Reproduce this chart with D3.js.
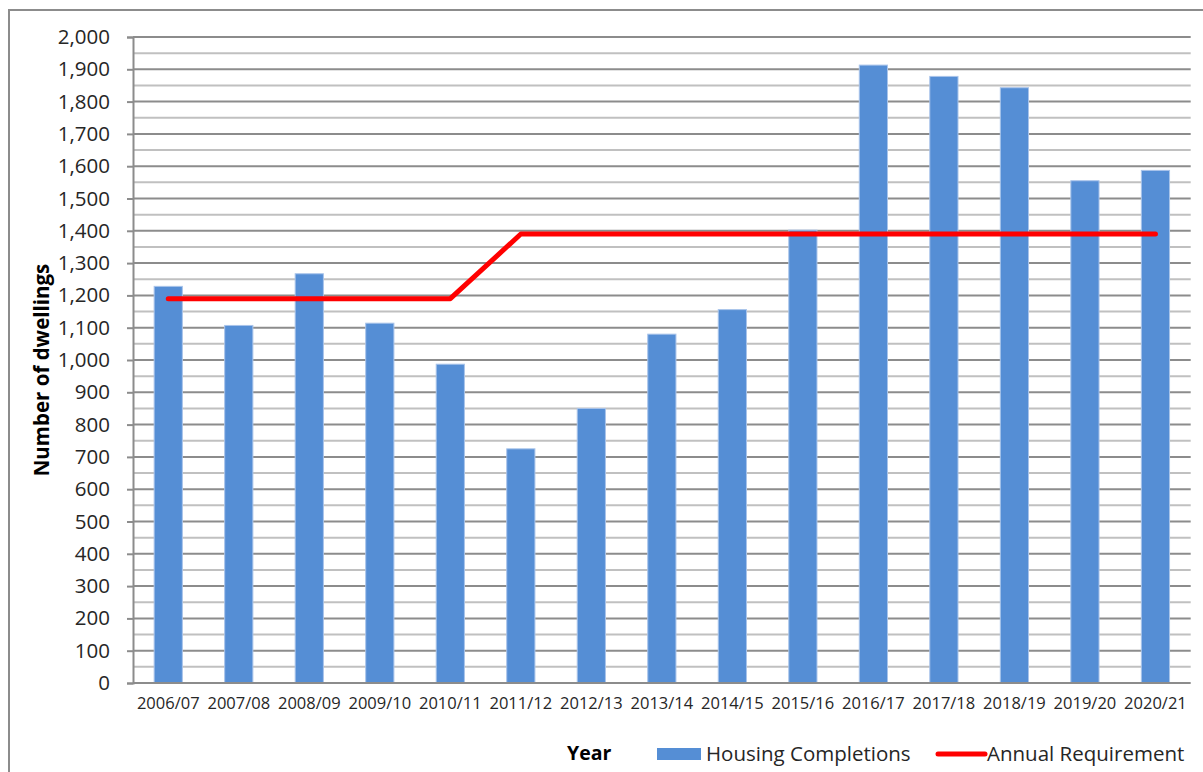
<!DOCTYPE html>
<html>
<head>
<meta charset="utf-8">
<script src="https://cdn.jsdelivr.net/npm/d3@7"></script>
<style>
  html, body { margin: 0; padding: 0; background: #fff; }
  svg { display: block; }
</style>
</head>
<body>
<svg id="chart" width="1203" height="772"></svg>
<script>
const categories = ["2006/07","2007/08","2008/09","2009/10","2010/11","2011/12","2012/13","2013/14","2014/15","2015/16","2016/17","2017/18","2018/19","2019/20","2020/21"];
const completions = [1228, 1107, 1267, 1114, 987, 725, 850, 1080, 1156, 1402, 1913, 1878, 1843, 1555, 1587];
const requirement = [1190, 1190, 1190, 1190, 1190, 1390, 1390, 1390, 1390, 1390, 1390, 1390, 1390, 1390, 1390];
const yTicks = d3.range(0, 2001, 100);
const yMinor = d3.range(50, 2000, 100);

const svg = d3.select("#chart");
const W = 1203, H = 772;
const m = { left: 133, right: 1190.7, top: 37, bottom: 683 };

// outer border
svg.append("rect")
  .attr("x", 9).attr("y", 10).attr("width", W).attr("height", H)
  .attr("fill", "none").attr("stroke", "#8c8c8c").attr("stroke-width", 2);

const x = d3.scaleBand().domain(categories).range([m.left, m.right])
  .paddingInner(0.6).paddingOuter(0.3);
const y = d3.scaleLinear().domain([0, 2000]).range([m.bottom, m.top]);

// minor gridlines
svg.append("g").selectAll("line").data(yMinor).join("line")
  .attr("x1", m.left).attr("x2", m.right)
  .attr("y1", d => y(d)).attr("y2", d => y(d))
  .attr("stroke", "#c0c0c0").attr("stroke-width", 2);

// major gridlines
svg.append("g").selectAll("line").data(yTicks.filter(d => d > 0)).join("line")
  .attr("x1", m.left).attr("x2", m.right)
  .attr("y1", d => y(d)).attr("y2", d => y(d))
  .attr("stroke", "#8c8c8c").attr("stroke-width", 2);

// y axis
const yAxis = svg.append("g").attr("transform", `translate(${m.left},0)`)
  .call(d3.axisLeft(y).tickValues(yTicks).tickSize(6).tickPadding(17)
    .tickFormat(d3.format(",")));
yAxis.select(".domain").attr("stroke", "#8c8c8c").attr("stroke-width", 2);
yAxis.selectAll(".tick line").attr("stroke", "#8c8c8c").attr("stroke-width", 2);
yAxis.selectAll(".tick text")
  .attr("font-family", "'Open Sans', sans-serif").attr("font-size", 20.5)
  .attr("fill", "#262626");

// bars
svg.append("g").selectAll("rect").data(categories).join("rect")
  .attr("x", d => x(d)).attr("width", x.bandwidth())
  .attr("y", (d, i) => y(completions[i]))
  .attr("height", (d, i) => y(0) - y(completions[i]))
  .attr("fill", "#558ED5").attr("stroke", "#a9c4ea").attr("stroke-width", 1);

// x axis
const xAxis = svg.append("g").attr("transform", `translate(0,${m.bottom})`)
  .call(d3.axisBottom(x).tickSize(0).tickPadding(14));
xAxis.select(".domain").attr("stroke", "#8c8c8c").attr("stroke-width", 2)
  .attr("d", `M${m.left},0H${m.right}`);
xAxis.selectAll(".tick text")
  .attr("font-family", "'Open Sans', sans-serif").attr("font-size", 16.5)
  .attr("fill", "#262626");

// requirement line
const line = d3.line()
  .x((d, i) => x(categories[i]) + x.bandwidth() / 2)
  .y(d => y(d));
svg.append("path").datum(requirement)
  .attr("d", line).attr("fill", "none")
  .attr("stroke", "#ff0000").attr("stroke-width", 5)
  .attr("stroke-linecap", "round").attr("stroke-linejoin", "round");

// y title
svg.append("text")
  .attr("transform", `translate(41,370) rotate(-90)`)
  .attr("text-anchor", "middle").attr("dominant-baseline", "central")
  .attr("font-family", "'Open Sans', sans-serif").attr("font-weight", "bold")
  .attr("font-size", 20.5).attr("fill", "#000")
  .text("Number of dwellings");

// legend
const lg = svg.append("g").attr("font-family", "'Open Sans', sans-serif").attr("fill", "#262626");
lg.append("text").attr("x", 567).attr("y", 760).attr("font-weight", "bold")
  .attr("font-size", 19.5).attr("fill", "#000").text("Year");
lg.append("rect").attr("x", 657).attr("y", 748).attr("width", 44).attr("height", 12)
  .attr("fill", "#558ED5");
lg.append("text").attr("x", 706).attr("y", 761).attr("font-size", 20.5).text("Housing Completions");
lg.append("line").attr("x1", 938).attr("x2", 985).attr("y1", 754).attr("y2", 754)
  .attr("stroke", "#ff0000").attr("stroke-width", 5).attr("stroke-linecap", "round");
lg.append("text").attr("x", 987).attr("y", 761).attr("font-size", 20.5).text("Annual Requirement");
</script>
</body>
</html>
